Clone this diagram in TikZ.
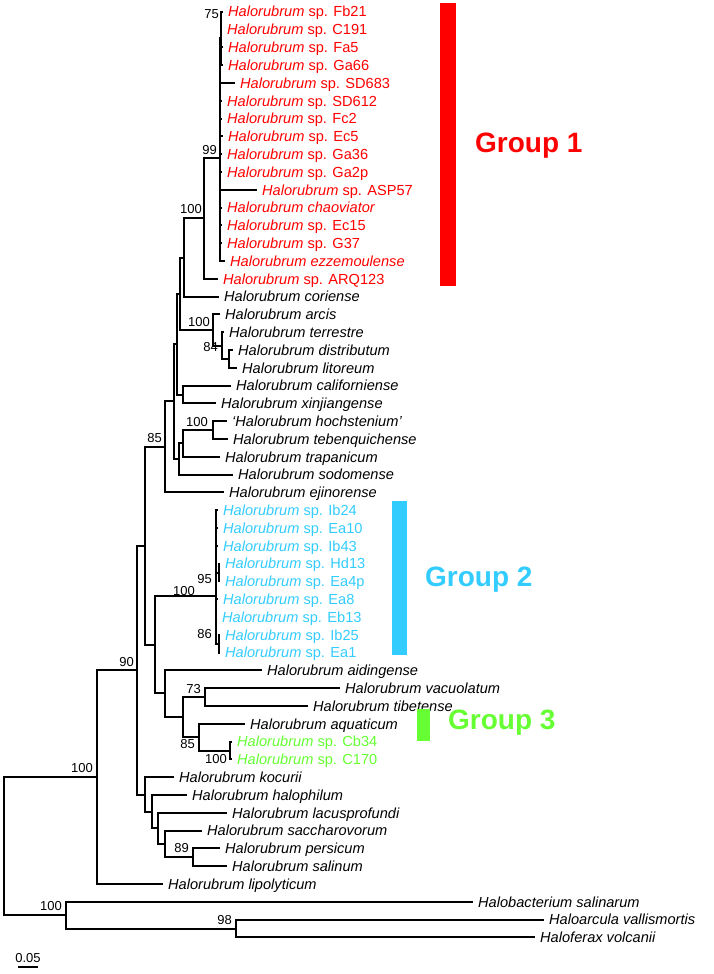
\documentclass[tikz,border=0pt]{standalone}
\usepackage{fontspec}
\setmainfont{Liberation Sans}
\definecolor{gone}{RGB}{255,0,0}
\definecolor{gtwo}{RGB}{51,204,255}
\definecolor{gthree}{RGB}{102,255,51}
\newcommand\Hs[1]{\textit{Halorubrum} sp. #1}
\newcommand\Hr[1]{\textit{Halorubrum #1}}
\newcommand\lf[5]{\coordinate (#1) at (#2,#3); \node[leaf,text=#4] (t#1) at ({#2+5},{#3+5.2}) {#5};}
\newcommand\bs[4]{\node[bslab] (#1) at (#2,#3) {#4};}
\begin{document}
\begin{tikzpicture}[x=1pt,y=-1pt,
  br/.style={line width=2pt},
  leaf/.style={anchor=base west,inner sep=0pt,font=\fontsize{14.6}{17}\selectfont},
  bslab/.style={anchor=east,inner sep=0pt,font=\fontsize{13}{15}\selectfont},
  grp/.style={anchor=west,inner sep=0pt,font=\fontsize{28}{32}\selectfont\bfseries}]
\useasboundingbox (0,0) rectangle (714,974);
% ---------- leaves ----------
\lf{Fb21}{223}{11.8}{gone}{\Hs{Fb21}}
\lf{C191}{222}{29.6}{gone}{\Hs{C191}}
\lf{Fa5}{223}{47.4}{gone}{\Hs{Fa5}}
\lf{Ga66}{223}{65.2}{gone}{\Hs{Ga66}}
\lf{SD683}{235}{83.0}{gone}{\Hs{SD683}}
\lf{SD612}{222}{100.8}{gone}{\Hs{SD612}}
\lf{Fc2}{222}{118.6}{gone}{\Hs{Fc2}}
\lf{Ec5}{223}{136.4}{gone}{\Hs{Ec5}}
\lf{Ga36}{222}{154.2}{gone}{\Hs{Ga36}}
\lf{Ga2p}{222}{172.0}{gone}{\Hs{Ga2p}}
\lf{ASP57}{257}{189.8}{gone}{\Hs{ASP57}}
\lf{chaov}{222}{207.6}{gone}{\Hr{chaoviator}}
\lf{Ec15}{222}{225.4}{gone}{\Hs{Ec15}}
\lf{G37}{222}{243.2}{gone}{\Hs{G37}}
\lf{ezze}{225}{261.0}{gone}{\Hr{ezzemoulense}}
\lf{ARQ}{218}{278.8}{gone}{\Hs{ARQ123}}
\lf{cor}{219}{296.6}{black}{\Hr{coriense}}
\lf{arcis}{220}{314.4}{black}{\Hr{arcis}}
\lf{terr}{224}{332.2}{black}{\Hr{terrestre}}
\lf{dist}{233}{350.0}{black}{\Hr{distributum}}
\lf{lit}{237}{367.8}{black}{\Hr{litoreum}}
\lf{cal}{231}{385.6}{black}{\Hr{californiense}}
\lf{xin}{216}{403.4}{black}{\Hr{xinjiangense}}
\lf{hoch}{227}{421.2}{black}{\textit{‘Halorubrum hochstenium’}}
\lf{teb}{228}{439.0}{black}{\Hr{tebenquichense}}
\lf{trap}{220}{456.8}{black}{\Hr{trapanicum}}
\lf{sod}{233}{474.6}{black}{\Hr{sodomense}}
\lf{ejin}{224}{492.4}{black}{\Hr{ejinorense}}
\lf{Ib24}{218}{510.2}{gtwo}{\Hs{Ib24}}
\lf{Ea10}{218}{528.0}{gtwo}{\Hs{Ea10}}
\lf{Ib43}{218}{545.8}{gtwo}{\Hs{Ib43}}
\lf{Hd13}{220}{563.6}{gtwo}{\Hs{Hd13}}
\lf{Ea4p}{220}{581.4}{gtwo}{\Hs{Ea4p}}
\lf{Ea8}{218}{599.2}{gtwo}{\Hs{Ea8}}
\lf{Eb13}{217}{617.0}{gtwo}{\Hs{Eb13}}
\lf{Ib25}{220}{634.8}{gtwo}{\Hs{Ib25}}
\lf{Ea1}{220}{652.6}{gtwo}{\Hs{Ea1}}
\lf{aid}{262}{670.4}{black}{\Hr{aidingense}}
\lf{vac}{340}{688.2}{black}{\Hr{vacuolatum}}
\lf{tib}{308}{706.0}{black}{\Hr{tibetense}}
\lf{aqu}{245}{723.8}{black}{\Hr{aquaticum}}
\lf{Cb34}{232}{741.6}{gthree}{\Hs{Cb34}}
\lf{C170}{232}{759.4}{gthree}{\Hs{C170}}
\lf{koc}{174}{777.2}{black}{\Hr{kocurii}}
\lf{hal}{187}{795.0}{black}{\Hr{halophilum}}
\lf{lac}{227}{812.8}{black}{\Hr{lacusprofundi}}
\lf{sac}{202}{830.6}{black}{\Hr{saccharovorum}}
\lf{per}{220}{848.4}{black}{\Hr{persicum}}
\lf{sal}{227}{866.2}{black}{\Hr{salinum}}
\lf{lip}{163}{884.0}{black}{\Hr{lipolyticum}}
\lf{Hbac}{473}{901.8}{black}{\textit{Halobacterium salinarum}}
\lf{val}{544}{919.6}{black}{\textit{Haloarcula vallismortis}}
\lf{vol}{535}{937.4}{black}{\textit{Haloferax volcanii}}
% ---------- internal nodes ----------
\coordinate (Ng1a) at (221,38.5);
\coordinate (N99) at (220,158);
\coordinate (N100a) at (204,218);
\coordinate (Ncor) at (184,257.5);
\coordinate (X1) at (180,293.7);
\coordinate (Narc) at (213,330);
\coordinate (Nt) at (222,345.6);
\coordinate (Ndl) at (229,359);
\coordinate (Ncal) at (183,394.5);
\coordinate (X2) at (177,343.7);
\coordinate (Nhoch) at (213,430);
\coordinate (Ntrap) at (183,443.4);
\coordinate (Nsod) at (179,459);
\coordinate (X3) at (174,401.4);
\coordinate (X4) at (165,446.9);
\coordinate (NG2) at (216,596);
\coordinate (N95) at (218.5,572.5);
\coordinate (N86) at (218.5,643.7);
\coordinate (N73) at (205,697.1);
\coordinate (N100g) at (230,750.5);
\coordinate (N85) at (199,737.2);
\coordinate (X8) at (183,716.7);
\coordinate (X7) at (165,693);
\coordinate (X6) at (155,644.5);
\coordinate (X5) at (145,545.7);
\coordinate (N89) at (193,857.3);
\coordinate (X12) at (165,844);
\coordinate (X11) at (158,828.4);
\coordinate (X10) at (152,811.7);
\coordinate (X9) at (145,794.5);
\coordinate (N90) at (137,670.1);
\coordinate (N100b) at (97,777);
\coordinate (N98) at (236,928.5);
\coordinate (Nout) at (66,915.2);
\coordinate (Root) at (4,846);
% ---------- branches ----------
\foreach \c in {Fb21,C191,Fa5,Ga66} \draw[br] (Ng1a) |- (\c);
\foreach \c in {Ng1a,SD683,SD612,Fc2,Ec5,Ga36,Ga2p,ASP57,chaov,Ec15,G37,ezze} \draw[br] (N99) |- (\c);
\foreach \c in {N99,ARQ} \draw[br] (N100a) |- (\c);
\foreach \c in {N100a,cor} \draw[br] (Ncor) |- (\c);
\foreach \c in {Ncor,Narc} \draw[br] (X1) |- (\c);
\foreach \c in {dist,lit} \draw[br] (Ndl) |- (\c);
\foreach \c in {terr,Ndl} \draw[br] (Nt) |- (\c);
\foreach \c in {arcis,Nt} \draw[br] (Narc) |- (\c);
\foreach \c in {cal,xin} \draw[br] (Ncal) |- (\c);
\foreach \c in {X1,Ncal} \draw[br] (X2) |- (\c);
\foreach \c in {hoch,teb} \draw[br] (Nhoch) |- (\c);
\foreach \c in {Nhoch,trap} \draw[br] (Ntrap) |- (\c);
\foreach \c in {Ntrap,sod} \draw[br] (Nsod) |- (\c);
\foreach \c in {X2,Nsod} \draw[br] (X3) |- (\c);
\foreach \c in {X3,ejin} \draw[br] (X4) |- (\c);
\foreach \c in {Hd13,Ea4p} \draw[br] (N95) |- (\c);
\foreach \c in {Ib25,Ea1} \draw[br] (N86) |- (\c);
\foreach \c in {Ib24,Ea10,Ib43,N95,Ea8,Eb13,N86} \draw[br] (NG2) |- (\c);
\foreach \c in {vac,tib} \draw[br] (N73) |- (\c);
\foreach \c in {Cb34,C170} \draw[br] (N100g) |- (\c);
\foreach \c in {aqu,N100g} \draw[br] (N85) |- (\c);
\foreach \c in {N73,N85} \draw[br] (X8) |- (\c);
\foreach \c in {aid,X8} \draw[br] (X7) |- (\c);
\foreach \c in {NG2,X7} \draw[br] (X6) |- (\c);
\foreach \c in {X4,X6} \draw[br] (X5) |- (\c);
\foreach \c in {per,sal} \draw[br] (N89) |- (\c);
\foreach \c in {sac,N89} \draw[br] (X12) |- (\c);
\foreach \c in {lac,X12} \draw[br] (X11) |- (\c);
\foreach \c in {hal,X11} \draw[br] (X10) |- (\c);
\foreach \c in {koc,X10} \draw[br] (X9) |- (\c);
\foreach \c in {X5,X9} \draw[br] (N90) |- (\c);
\foreach \c in {N90,lip} \draw[br] (N100b) |- (\c);
\foreach \c in {val,vol} \draw[br] (N98) |- (\c);
\foreach \c in {Hbac,N98} \draw[br] (Nout) |- (\c);
\foreach \c in {N100b,Nout} \draw[br] (Root) |- (\c);
% ---------- bootstrap values ----------
\bs{b75}{219}{14}{75}
\bs{b99}{217}{150}{99}
\bs{b100a}{202}{209}{100}
\bs{b100arc}{210}{322}{100}
\bs{b84}{218}{347}{84}
\bs{b100hoch}{208}{422}{100}
\bs{b85a}{162}{438}{85}
\bs{b95}{212}{579}{95}
\bs{b100g2}{195}{591}{100}
\bs{b86}{212}{634}{86}
\bs{b90}{134}{662}{90}
\bs{b73}{201}{689}{73}
\bs{b85b}{195}{744}{85}
\bs{b100g3}{227}{759}{100}
\bs{b100b}{93}{768}{100}
\bs{b89}{189}{848}{89}
\bs{b100o}{62}{906}{100}
\bs{b98}{232}{920}{98}
% ---------- groups ----------
\fill[gone] (440,3) rectangle (456,286);
\node[grp,text=gone] (g1) at (475,146) {Group 1};
\fill[gtwo] (392,501) rectangle (407,655);
\node[grp,text=gtwo] (g2) at (425,580) {Group 2};
\fill[gthree] (417,709) rectangle (430,741);
\node[grp,text=gthree] (g3) at (448,723) {Group 3};
% ---------- scale bar ----------
\coordinate (sbL) at (18,967);
\coordinate (sbR) at (38,967);
\draw[line width=1.2pt] (sbL) -- (sbR);
\node[inner sep=0pt,font=\fontsize{13}{15}\selectfont,anchor=base] (sbt) at (28,962) {0.05};
\end{tikzpicture}
\end{document}
